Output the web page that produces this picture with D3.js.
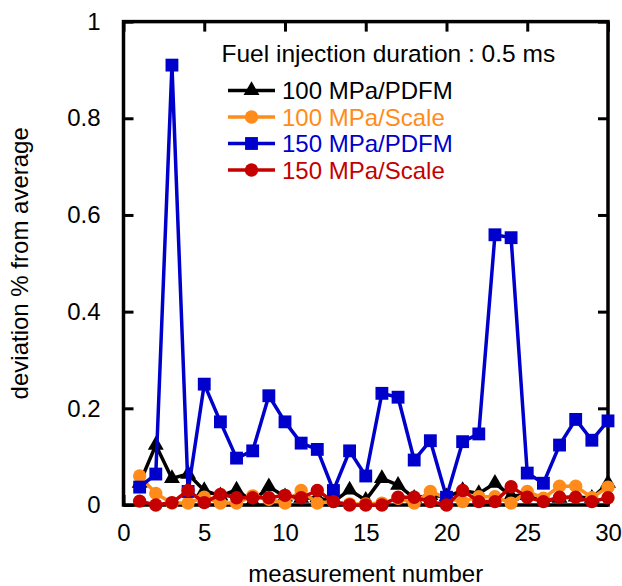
<!DOCTYPE html>
<html>
<head>
<meta charset="utf-8">
<script src="https://cdn.jsdelivr.net/npm/d3@7"></script>
<style>
  body { margin: 0; background: #fff; }
  text { font-family: "Liberation Sans", Arial, sans-serif; }
</style>
</head>
<body>
<svg width="622" height="586"></svg>
<script>
// measurement numbers 1..30
var measurement = [1,2,3,4,5,6,7,8,9,10,11,12,13,14,15,16,17,18,19,20,21,22,23,24,25,26,27,28,29,30];

var pdfm100  = [0.045,0.124,0.055,0.064,0.030,0.019,0.031,0.007,0.038,0.017,0.014,0.015,0.007,0.031,0.010,
                0.055,0.041,0.014,0.020,0.017,0.030,0.024,0.045,0.019,0.020,0.007,0.014,0.017,0.014,0.045];
var scale100 = [0.060,0.024,0.004,0.004,0.016,0.004,0.004,0.019,0.012,0.004,0.030,0.004,0.007,0.002,0.002,
                0.004,0.014,0.004,0.028,0.014,0.007,0.017,0.017,0.004,0.028,0.014,0.039,0.039,0.015,0.037];
var pdfm150  = [0.037,0.064,0.910,0.028,0.250,0.172,0.097,0.112,0.226,0.172,0.128,0.115,0.030,0.112,0.060,
                0.231,0.223,0.093,0.133,0.016,0.131,0.147,0.559,0.553,0.066,0.045,0.124,0.177,0.134,0.174];
var scale150 = [0.008,0.000,0.005,0.030,0.005,0.022,0.015,0.015,0.015,0.020,0.015,0.030,0.007,0.000,0.000,
                0.000,0.016,0.016,0.007,0.000,0.030,0.007,0.007,0.038,0.016,0.007,0.016,0.016,0.007,0.015];

var seriesNames = ["100 MPa/PDFM", "100 MPa/Scale", "150 MPa/PDFM", "150 MPa/Scale"];
var seriesColors = ["#000000", "#ff8c1a", "#0000cc", "#c40000"];
var seriesSymbols = ["triangle", "circle", "square", "circle"];
var seriesValues = [pdfm100, scale100, pdfm150, scale150];

var xTicks = [0,5,10,15,20,25,30];
var yTicks = [0,0.2,0.4,0.6,0.8,1];
var title = "Fuel injection duration : 0.5 ms";

var svg = d3.select("svg");
var plotLeft = 123.5, plotRight = 608, plotTop = 21.6, plotBottom = 505;

var x = d3.scaleLinear().domain([0, 30]).range([plotLeft, plotRight]);
var y = d3.scaleLinear().domain([0, 1]).range([plotBottom, plotTop]);

// ticks (inward) on all four sides
function styleAxis(g) {
  g.select(".domain").remove();
  g.selectAll(".tick line").attr("stroke", "#000").attr("stroke-width", 3);
  g.selectAll(".tick text").attr("fill", "#000").style("font-size", "24px");
}
svg.append("g").attr("transform", "translate(0," + plotBottom + ")")
  .call(d3.axisBottom(x).tickValues(xTicks).tickSizeInner(-10).tickSizeOuter(0).tickPadding(19).tickFormat(d3.format("d")))
  .call(styleAxis);
svg.append("g").attr("transform", "translate(0," + plotTop + ")")
  .call(d3.axisTop(x).tickValues(xTicks).tickSizeInner(-10).tickSizeOuter(0).tickFormat(""))
  .call(styleAxis);
svg.append("g").attr("transform", "translate(" + plotLeft + ",0)")
  .call(d3.axisLeft(y).tickValues(yTicks).tickSizeInner(-10).tickSizeOuter(0).tickPadding(23).tickFormat(function(d) { return d3.format("~g")(d); }))
  .call(styleAxis);
svg.append("g").attr("transform", "translate(" + plotRight + ",0)")
  .call(d3.axisRight(y).tickValues(yTicks).tickSizeInner(-10).tickSizeOuter(0).tickFormat(""))
  .call(styleAxis);

svg.append("rect")
  .attr("x", plotLeft).attr("y", plotTop)
  .attr("width", plotRight - plotLeft).attr("height", plotBottom - plotTop)
  .attr("fill", "none").attr("stroke", "#000").attr("stroke-width", 3.5);

var symbolTypes = { triangle: d3.symbolTriangle, circle: d3.symbolCircle, square: d3.symbolSquare };
var symbolSizes = { triangle: 110, circle: 140, square: 165 };

var line = d3.line()
  .x(function(d, i) { return x(measurement[i]); })
  .y(function(d) { return y(d); });

seriesValues.forEach(function(vals, s) {
  svg.append("path")
    .datum(vals)
    .attr("d", line)
    .attr("fill", "none")
    .attr("stroke", seriesColors[s])
    .attr("stroke-width", 3.5)
    .attr("stroke-linejoin", "round");
  svg.append("g").selectAll("path")
    .data(vals)
    .enter().append("path")
      .attr("transform", function(d, i) { return "translate(" + x(measurement[i]) + "," + y(d) + ")"; })
      .attr("d", d3.symbol().type(symbolTypes[seriesSymbols[s]]).size(symbolSizes[seriesSymbols[s]]))
      .attr("fill", seriesColors[s]);
});

// title + legend
svg.append("text")
  .attr("x", 221.5).attr("y", 62)
  .style("font-size", "24.5px")
  .text(title);

var legend = svg.append("g");
seriesNames.forEach(function(name, s) {
  var cy = 90.5 + s * 26.5;
  legend.append("line")
    .attr("x1", 228).attr("x2", 275).attr("y1", cy).attr("y2", cy)
    .attr("stroke", seriesColors[s]).attr("stroke-width", 3.5);
  legend.append("path")
    .attr("transform", "translate(251.5," + cy + ")")
    .attr("d", d3.symbol().type(symbolTypes[seriesSymbols[s]]).size(symbolSizes[seriesSymbols[s]]))
    .attr("fill", seriesColors[s]);
  legend.append("text")
    .attr("x", 282).attr("y", cy + 8.5)
    .attr("fill", seriesColors[s])
    .style("font-size", "24px")
    .text(name);
});

// axis titles
svg.append("text")
  .attr("x", (plotLeft + plotRight) / 2).attr("y", 582)
  .attr("text-anchor", "middle")
  .style("font-size", "24px")
  .text("measurement number");
svg.append("text")
  .attr("transform", "translate(28," + (plotTop + plotBottom) / 2 + ") rotate(-90)")
  .attr("text-anchor", "middle")
  .style("font-size", "24px")
  .text("deviation % from average");
</script>
</body>
</html>
